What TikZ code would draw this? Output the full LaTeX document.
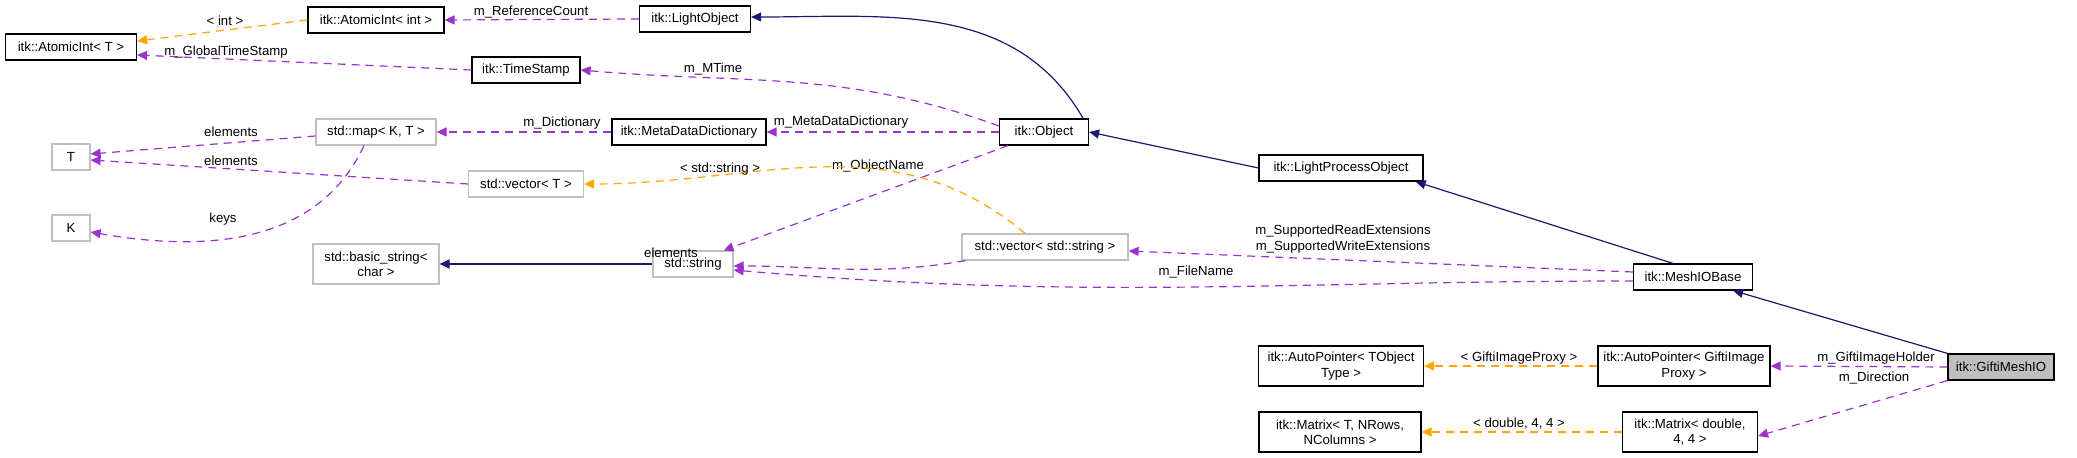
\documentclass[tikz,border=0pt]{standalone}
\usepackage{fontspec}
\setmainfont{Liberation Sans}
\usetikzlibrary{arrows.meta}
\definecolor{pur}{HTML}{9A32CD}
\definecolor{org}{HTML}{FFA500}
\definecolor{nav}{HTML}{191970}
\definecolor{gbox}{HTML}{BFBFBF}
\begin{document}
\begin{tikzpicture}[x=0.5pt,y=-0.5pt,
  box/.style={draw=black,line width=0.6pt,minimum height=13pt,inner sep=1pt,font=\fontsize{6.6}{7.6}\selectfont,align=center},
  gb/.style={box,draw=gbox},
  lbl/.style={font=\fontsize{6.6}{7.6}\selectfont,inner sep=0.5pt,align=center},
  mem/.style={draw=pur,dashed,line width=0.6pt,dash pattern=on 4pt off 3pt,-{Triangle[length=5pt,width=4.5pt]}},
  tpl/.style={draw=org,dashed,line width=0.6pt,dash pattern=on 4pt off 3pt,-{Triangle[length=5pt,width=4.5pt]}},
  inh/.style={draw=nav,line width=0.6pt,-{Triangle[length=5pt,width=4.5pt]}}]
\useasboundingbox (0,0) rectangle (2077,458);
% nodes
\node[box,minimum width=65.5pt] (ait) at (71,47) {itk::AtomicInt< T >};
\node[box,minimum width=68pt] (aii) at (376,20) {itk::AtomicInt< int >};
\node[box,minimum width=55.5pt] (lo) at (695,19) {itk::LightObject};
\node[box,minimum width=54pt] (ts) at (526,70) {itk::TimeStamp};
\node[gb,minimum width=60pt] (map) at (376,132) {std::map< K, T >};
\node[box,minimum width=77pt] (mdd) at (689,132) {itk::MetaDataDictionary};
\node[box,minimum width=44.5pt] (obj) at (1044,132) {itk::Object};
\node[gb,minimum width=19pt] (T) at (71,157) {T};
\node[gb,minimum width=57.5pt] (vt) at (526,184) {std::vector< T >};
\node[gb,minimum width=19pt] (K) at (71,228) {K};
\node[gb,minimum width=63pt,minimum height=20pt] (bs) at (376,264) {std::basic\_string<\\char >};
\node[gb,minimum width=40pt] (str) at (693,264) {std::string};
\node[box,minimum width=82pt] (lpo) at (1341,168) {itk::LightProcessObject};
\node[gb,minimum width=83pt] (vs) at (1045,247) {std::vector< std::string >};
\node[box,minimum width=59.5pt] (mio) at (1693,277) {itk::MeshIOBase};
\node[box,fill=gbox,minimum width=53pt] (gmi) at (2001,367) {itk::GiftiMeshIO};
\node[box,minimum width=86pt,minimum height=20pt] (apg) at (1684,366) {itk::AutoPointer< GiftiImage\\Proxy >};
\node[box,minimum width=82.5pt,minimum height=20pt] (apt) at (1341,366) {itk::AutoPointer< TObject\\Type >};
\node[box,minimum width=67.5pt,minimum height=20pt] (mxd) at (1690,432) {itk::Matrix< double,\\4, 4 >};
\node[box,minimum width=81pt,minimum height=20pt] (mxt) at (1340,432) {itk::Matrix< T, NRows,\\NColumns >};
% edges
\draw[tpl] (aii.west) -- ([yshift=3pt]ait.east);
\node[lbl] (l1) at (225,21) {< int >};
\draw[mem] (lo.west) -- (aii.east);
\node[lbl] (l2) at (531,12) {m\_ReferenceCount};
\draw[mem] (ts.west) -- ([yshift=-4pt]ait.east);
\node[lbl] (l3) at (226,52) {m\_GlobalTimeStamp};
\draw[mem] ([yshift=3pt]obj.west) to[out=160,in=-5] (ts.east);
\node[lbl] (l4) at (713,69) {m\_MTime};
\draw[mem] (obj.west) -- (mdd.east);
\node[lbl] (l5) at (841,122) {m\_MetaDataDictionary};
\draw[mem] (mdd.west) -- (map.east);
\node[lbl] (l6) at (562,123) {m\_Dictionary};
\draw[mem] ([yshift=-2pt]map.west) -- ([yshift=1.5pt]T.east);
\node[lbl] (l7) at (231,132) {elements};
\draw[mem] (vt.west) -- ([yshift=-1.5pt]T.east);
\node[lbl] (l8) at (231,161) {elements};
\draw[mem] ([xshift=-6pt]map.south) to[out=-115,in=-10] ([yshift=-2pt]K.east);
\node[lbl] (l9) at (223,219) {keys};
\draw[mem] ([xshift=-18pt]obj.south) -- ([xshift=-5pt]str.north east);
\node[lbl] (l10) at (878,166) {m\_ObjectName};
\draw[tpl] ([xshift=-10pt]vs.north) to[out=140,in=0] (vt.east);
\node[lbl] (l11) at (720,169) {< std::string >};
\draw[inh] (str.west) -- (bs.east);
\draw[mem] ([xshift=2pt]vs.south west) to[out=190,in=0] ([yshift=-1pt]str.east);
\node[lbl] (l12) at (671,253) {elements};
\draw[mem] ([yshift=2.5pt]mio.west) -- ([yshift=-2pt]vs.east);
\node[lbl] (l13) at (1343,239) {m\_SupportedReadExtensions\\m\_SupportedWriteExtensions};
\draw[mem] ([yshift=-2pt]mio.west) to[out=180,in=-5] ([yshift=-3pt]str.east);
\node[lbl] (l14) at (1196,272) {m\_FileName};
\draw[inh] ([xshift=-3pt]obj.north east) to[out=120,in=0] ([yshift=1pt]lo.east);
\draw[inh] (lpo.west) -- (obj.east);
\draw[inh] ([xshift=-10pt]mio.north) -- ([xshift=-4pt]lpo.south east);
\draw[inh] (gmi.north west) -- ([xshift=-10pt]mio.south east);
\draw[mem] (gmi.west) -- (apg.east);
\node[lbl] (l15) at (1876,358) {m\_GiftiImageHolder};
\draw[mem] (gmi.south west) -- ([yshift=-2pt]mxd.east);
\node[lbl] (l16) at (1874,378) {m\_Direction};
\draw[tpl] (apg.west) -- (apt.east);
\node[lbl] (l17) at (1519,358) {< GiftiImageProxy >};
\draw[tpl] (mxd.west) -- (mxt.east);
\node[lbl] (l18) at (1519,424) {< double, 4, 4 >};
\end{tikzpicture}
\end{document}
